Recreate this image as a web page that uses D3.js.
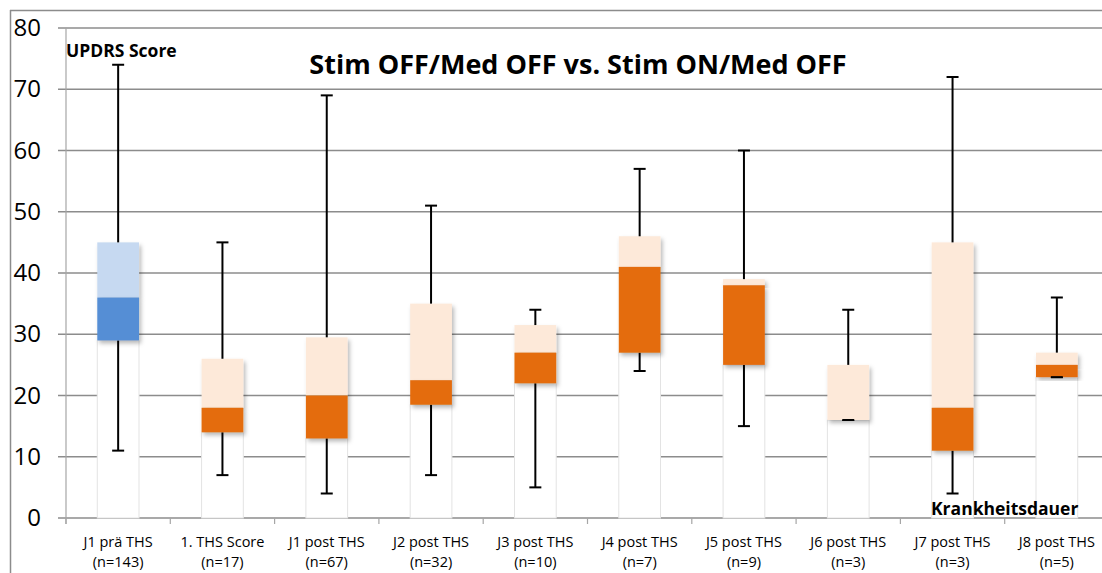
<!DOCTYPE html>
<html>
<head>
<meta charset="utf-8">
<script src="https://cdn.jsdelivr.net/npm/d3@7"></script>
<style>
  body { margin: 0; background: #fff; }
  text { font-family: "Open Sans", Lato, sans-serif; }
</style>
</head>
<body>
<div id="chart"></div>
<script>
"use strict"

// categories and labels
let categories = ["J1 prä THS", "1. THS Score", "J1 post THS", "J2 post THS", "J3 post THS",
                  "J4 post THS", "J5 post THS", "J6 post THS", "J7 post THS", "J8 post THS"];
let counts = ["(n=143)", "(n=17)", "(n=67)", "(n=32)", "(n=10)", "(n=7)", "(n=9)", "(n=3)", "(n=3)", "(n=5)"];

// UPDRS values per category
let minValues    = [11,   7,  4,  7,    5,  24, 15, 16, 4,  23];
let q1Values     = [29,  14, 13, 18.5, 22,  27, 25, 16, 11, 23];
let medianValues = [36,  18, 20, 22.5, 27,  41, 38, 16, 18, 25];
let q3Values     = [45,  26, 29.5, 35, 31.5, 46, 39, 25, 45, 27];
let maxValues    = [74,  45, 69, 51,   34,  57, 60, 34, 72, 36];

let yTicks = [0, 10, 20, 30, 40, 50, 60, 70, 80];

let Chart = function() {
  init();

  function init()
  {
    let width = 1102;
    let height = 573;
    let left = 66, top = 28, bottom = 518;
    let band = 104.3;

    let svg = d3.select("#chart").append("svg")
                .attr("width", width)
                .attr("height", height);

    let defs = svg.append("defs");
    let filter = defs.append("filter")
                     .attr("id", "shadow")
                     .attr("x", "-20%").attr("y", "-20%")
                     .attr("width", "150%").attr("height", "150%");
    filter.append("feDropShadow")
          .attr("dx", 2).attr("dy", 3)
          .attr("stdDeviation", 2.2)
          .attr("flood-color", "#000")
          .attr("flood-opacity", 0.28);

    let x = d3.scaleBand()
              .domain(categories)
              .range([left, left + band * categories.length])
              .paddingInner(0.6)
              .paddingOuter(0.3);

    let y = d3.scaleLinear()
              .domain([0, 80])
              .range([bottom, top]);

    // outer frame
    svg.append("line")
       .attr("x1", 10).attr("x2", width)
       .attr("y1", 10.5).attr("y2", 10.5)
       .attr("stroke", "#8c8c8c").attr("stroke-width", 1.5);
    svg.append("line")
       .attr("x1", 10.5).attr("x2", 10.5)
       .attr("y1", 10).attr("y2", height)
       .attr("stroke", "#8c8c8c").attr("stroke-width", 1.5);

    // gridlines
    svg.append("g")
       .selectAll("line")
       .data(yTicks)
       .join("line")
       .attr("x1", left - 8)
       .attr("x2", width)
       .attr("y1", d => y(d))
       .attr("y2", d => y(d))
       .attr("stroke", "#8c8c8c")
       .attr("stroke-width", 1.6);

    // y axis line
    svg.append("line")
       .attr("x1", left).attr("x2", left)
       .attr("y1", top).attr("y2", bottom + 6)
       .attr("stroke", "#a6a6a6").attr("stroke-width", 1.2);

    // y tick labels
    svg.append("g")
       .selectAll("text")
       .data(yTicks)
       .join("text")
       .attr("x", 41)
       .attr("y", d => y(d) + 8)
       .attr("text-anchor", "end")
       .attr("font-size", 24)
       .attr("fill", "#000")
       .text(d => d);

    // x tick marks at band boundaries
    let boundaries = d3.range(categories.length + 1).map(i => left + band * i);
    svg.append("g")
       .selectAll("line")
       .data(boundaries)
       .join("line")
       .attr("x1", d => d).attr("x2", d => d)
       .attr("y1", bottom).attr("y2", bottom + 6)
       .attr("stroke", "#a6a6a6").attr("stroke-width", 1.2);

    let data = categories.map(function(c, i) {
      return { cat: c, min: minValues[i], q1: q1Values[i], med: medianValues[i],
               q3: q3Values[i], max: maxValues[i], i: i };
    });

    let g = svg.append("g");
    let bw = x.bandwidth();

    // white base segment
    g.selectAll("rect.base")
     .data(data)
     .join("rect")
     .attr("class", "base")
     .attr("x", d => x(d.cat))
     .attr("width", bw)
     .attr("y", d => y(d.q1))
     .attr("height", d => y(0) - y(d.q1))
     .attr("fill", "#fff")
     .attr("stroke", "#e3e3e3")
     .attr("stroke-width", 1);

    // lower whisker
    g.selectAll("line.lowW")
     .data(data)
     .join("line")
     .attr("class", "lowW")
     .attr("x1", d => x(d.cat) + bw / 2).attr("x2", d => x(d.cat) + bw / 2)
     .attr("y1", d => y(d.q1)).attr("y2", d => y(d.min))
     .attr("stroke", "#000").attr("stroke-width", 2);
    g.selectAll("line.lowCap")
     .data(data)
     .join("line")
     .attr("class", "lowCap")
     .attr("x1", d => x(d.cat) + bw / 2 - 6).attr("x2", d => x(d.cat) + bw / 2 + 6)
     .attr("y1", d => y(d.min)).attr("y2", d => y(d.min))
     .attr("stroke", "#000").attr("stroke-width", 2);

    // upper box (light)
    g.selectAll("rect.upper")
     .data(data)
     .join("rect")
     .attr("class", "upper")
     .attr("x", d => x(d.cat))
     .attr("width", bw)
     .attr("y", d => y(d.q3))
     .attr("height", d => y(d.med) - y(d.q3))
     .attr("fill", d => d.i === 0 ? "#c6d9f1" : "#fde9d9")
     .attr("filter", "url(#shadow)");

    // lower box (dark)
    g.selectAll("rect.lower")
     .data(data.filter(d => d.med > d.q1))
     .join("rect")
     .attr("class", "lower")
     .attr("x", d => x(d.cat))
     .attr("width", bw)
     .attr("y", d => y(d.med))
     .attr("height", d => y(d.q1) - y(d.med))
     .attr("fill", d => d.i === 0 ? "#558ed5" : "#e46c0a")
     .attr("filter", "url(#shadow)");

    // redraw short lower caps sitting on box bottom
    g.selectAll("line.lowCap2")
     .data(data.filter(d => d.min === d.q1))
     .join("line")
     .attr("class", "lowCap2")
     .attr("x1", d => x(d.cat) + bw / 2 - 6).attr("x2", d => x(d.cat) + bw / 2 + 6)
     .attr("y1", d => y(d.min)).attr("y2", d => y(d.min))
     .attr("stroke", "#000").attr("stroke-width", 2);

    // upper whisker
    g.selectAll("line.upW")
     .data(data)
     .join("line")
     .attr("class", "upW")
     .attr("x1", d => x(d.cat) + bw / 2).attr("x2", d => x(d.cat) + bw / 2)
     .attr("y1", d => y(d.q3)).attr("y2", d => y(d.max))
     .attr("stroke", "#000").attr("stroke-width", 2);
    g.selectAll("line.upCap")
     .data(data)
     .join("line")
     .attr("class", "upCap")
     .attr("x1", d => x(d.cat) + bw / 2 - 6).attr("x2", d => x(d.cat) + bw / 2 + 6)
     .attr("y1", d => y(d.max)).attr("y2", d => y(d.max))
     .attr("stroke", "#000").attr("stroke-width", 2);

    // category labels (two separate rows)
    svg.append("g")
       .selectAll("text")
       .data(categories)
       .join("text")
       .attr("x", d => x(d) + bw / 2)
       .attr("y", 547)
       .attr("text-anchor", "middle")
       .attr("font-size", 14.5)
       .attr("fill", "#000")
       .text(d => d);
    svg.append("g")
       .selectAll("text")
       .data(counts)
       .join("text")
       .attr("x", (d, i) => x(categories[i]) + bw / 2)
       .attr("y", 567)
       .attr("text-anchor", "middle")
       .attr("font-size", 14.5)
       .attr("fill", "#000")
       .text(d => d);

    // titles
    svg.append("text")
       .attr("x", 578).attr("y", 74)
       .attr("text-anchor", "middle")
       .attr("font-size", 27)
       .attr("font-weight", "bold")
       .text("Stim OFF/Med OFF vs. Stim ON/Med OFF");
    svg.append("text")
       .attr("x", 66).attr("y", 57)
       .attr("font-size", 17.5)
       .attr("font-weight", "bold")
       .text("UPDRS Score");
    svg.append("text")
       .attr("x", 931).attr("y", 515)
       .attr("font-size", 17.5)
       .attr("font-weight", "bold")
       .text("Krankheitsdauer");
  }
}

Chart();
</script>
</body>
</html>
